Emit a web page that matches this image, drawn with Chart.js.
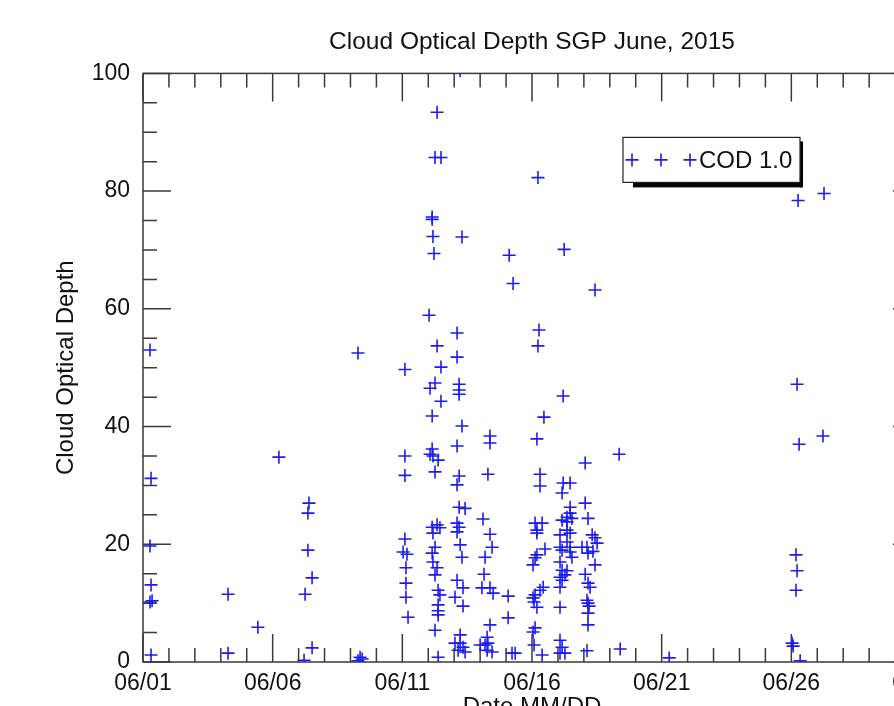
<!DOCTYPE html>
<html lang="en">
<head>
    <meta charset="UTF-8">
    <title>Cloud Optical Depth SGP June, 2015</title>
    <script src="https://cdn.jsdelivr.net/npm/chart.js"></script>
    <style>
        html, body { margin: 0; padding: 0; background: #fff; overflow: hidden; }
        #chart-container { position: absolute; left: 0; top: 0; width: 960px; height: 740px; }
    </style>
</head>
<body>
    <div id="chart-container">
        <canvas id="codChart" width="960" height="740"></canvas>
    </div>

    <script>
        // Day of month (fractional) and cloud optical depth
        const days = [
            1.27, 1.31, 1.27, 1.31, 1.27, 1.35, 1.31, 4.28, 4.28, 5.43,
            6.24, 7.40, 7.36, 7.36, 7.52, 7.25, 7.52, 7.21, 9.29, 9.37,
            9.29, 9.45, 11.10, 11.10, 11.10, 11.10, 11.03, 11.18, 11.14, 11.14,
            11.14, 11.22, 12.34, 12.26, 12.49, 12.15, 12.15, 12.18, 12.22, 12.03,
            12.34, 12.49, 12.26, 12.07, 12.49, 12.15, 12.15, 12.07, 12.18, 12.38,
            12.26, 12.15, 12.34, 12.45, 12.18, 12.26, 12.15, 12.18, 12.34, 12.26,
            12.38, 12.45, 12.38, 12.38, 12.38, 12.26, 12.38, 13.23, 13.30, 13.11,
            13.11, 13.19, 13.19, 13.19, 13.30, 13.11, 13.19, 13.11, 13.19, 13.42,
            13.11, 13.19, 13.11, 13.23, 13.30, 13.11, 13.34, 13.03, 13.34, 13.23,
            13.03, 13.23, 13.34, 13.15, 13.42, 14.38, 14.38, 14.30, 14.11, 14.38,
            14.46, 14.19, 14.15, 14.07, 14.38, 14.50, 14.38, 14.27, 14.00, 14.19,
            14.30, 14.46, 14.27, 15.12, 15.27, 15.08, 15.08, 15.23, 15.35, 16.23,
            16.27, 16.23, 16.46, 16.19, 16.31, 16.31, 16.12, 16.39, 16.19, 16.19,
            16.50, 16.19, 16.12, 16.04, 16.43, 16.31, 16.12, 16.04, 16.08, 16.19,
            16.12, 16.04, 16.08, 16.39, 17.24, 17.20, 17.20, 17.47, 17.16, 17.47,
            17.35, 17.47, 17.54, 17.16, 17.35, 17.35, 17.47, 17.08, 17.35, 17.08,
            17.47, 17.16, 17.47, 17.54, 17.08, 17.16, 17.35, 17.08, 17.27, 17.16,
            17.08, 17.08, 17.08, 17.16, 17.08, 17.27, 18.43, 18.05, 18.05, 18.16,
            18.32, 18.43, 18.51, 17.93, 18.12, 18.16, 18.35, 18.43, 18.05, 18.16,
            18.24, 18.12, 18.16, 18.20, 18.16, 18.16, 18.12, 19.36, 19.40, 21.29,
            26.26, 27.26, 26.22, 26.30, 27.22, 26.18, 26.22, 26.18, 26.03, 26.07,
            26.34
        ];
        const cod = [
            53.0, 31.2, 19.7, 13.1, 10.2, 10.4, 1.2, 11.5, 1.5, 5.9,
            34.8, 27.0, 25.3, 19.0, 14.3, 11.5, 2.4, 0.3, 52.5, 0.8,
            0.2, 0.5, 49.7, 35.0, 31.7, 20.9, 18.7, 18.3, 16.0, 13.4,
            11.0, 7.6, 93.4, 85.7, 85.7, 75.6, 75.2, 72.3, 69.4, 58.9,
            53.7, 50.1, 47.4, 46.5, 44.3, 41.8, 36.2, 35.3, 35.0, 34.3,
            32.3, 22.9, 23.3, 22.8, 21.9, 19.5, 18.5, 17.0, 16.0, 14.8,
            12.2, 11.4, 9.7, 8.7, 8.0, 5.4, 0.8, 100.5, 72.2, 55.9,
            51.8, 47.2, 46.2, 45.5, 40.1, 36.7, 31.6, 30.1, 26.3, 26.1,
            23.6, 22.9, 22.1, 19.9, 17.8, 13.9, 12.6, 11.0, 9.5, 4.6,
            3.2, 3.2, 2.5, 2.0, 1.7, 38.4, 37.2, 31.9, 24.3, 21.7,
            19.5, 17.8, 14.9, 12.6, 12.6, 11.7, 6.3, 4.2, 2.9, 2.9,
            3.2, 1.7, 2.0, 69.1, 64.3, 11.2, 7.5, 1.5, 1.5, 82.3,
            56.4, 53.7, 41.6, 37.9, 31.9, 29.9, 23.6, 23.6, 22.4, 21.9,
            19.2, 18.2, 17.7, 16.5, 12.7, 12.2, 11.4, 10.9, 10.2, 9.3,
            5.8, 5.1, 2.9, 1.2, 70.1, 45.2, 30.4, 30.4, 28.7, 26.3,
            24.6, 25.3, 24.4, 24.1, 23.8, 22.4, 21.9, 21.6, 20.4, 19.5,
            19.5, 19.0, 18.7, 17.8, 17.0, 15.6, 15.5, 14.4, 14.8, 13.9,
            12.7, 9.3, 3.7, 2.5, 1.5, 1.5, 63.2, 33.8, 27.0, 24.4,
            21.6, 21.1, 20.2, 19.5, 19.5, 18.5, 18.8, 16.5, 14.9, 13.4,
            12.7, 10.5, 10.0, 9.5, 8.3, 6.3, 1.9, 35.3, 2.2, 0.7,
            78.4, 79.6, 47.2, 37.0, 38.4, 18.2, 15.5, 12.2, 3.2, 2.7,
            0.2
        ];
        const xTickDays = [1, 6, 11, 16, 21, 26, 31];
        const xTickLabels = ['06/01', '06/06', '06/11', '06/16', '06/21', '06/26', '07/01'];
        const seriesName = 'COD 1.0';

        const fontFamily = '"Liberation Sans", Arial, Helvetica, sans-serif';
        const ink = '#111';
        const blue = 'rgb(28,28,238)';

        // box round the plot with inward ticks on all four sides (IDL style)
        const axisFrame = {
            id: 'axisFrame',
            beforeDatasetsDraw(chart) {
                const { ctx, chartArea: a, scales: { x, y } } = chart;
                ctx.save();
                ctx.strokeStyle = '#3a3a3a';
                ctx.lineWidth = 1.5;
                ctx.strokeRect(a.left, a.top, a.right - a.left, a.bottom - a.top);
                ctx.beginPath();
                for (let d = x.min; d <= x.max; d++) {
                    const px = x.getPixelForValue(d);
                    const len = (d - x.min) % 5 === 0 ? 28 : 14;
                    ctx.moveTo(px, a.bottom); ctx.lineTo(px, a.bottom - len);
                    ctx.moveTo(px, a.top); ctx.lineTo(px, a.top + len);
                }
                for (let v = y.min; v <= y.max; v += 5) {
                    const py = y.getPixelForValue(v);
                    const len = v % 20 === 0 ? 28 : 14;
                    ctx.moveTo(a.left, py); ctx.lineTo(a.left + len, py);
                    ctx.moveTo(a.right, py); ctx.lineTo(a.right - len, py);
                }
                ctx.stroke();
                ctx.restore();
            }
        };

        // boxed legend with drop shadow: "+ + +COD 1.0"
        const boxLegend = {
            id: 'boxLegend',
            afterDraw(chart) {
                const { ctx, chartArea: a } = chart;
                const left = a.left + 480, top = a.top + 64, w = 177, h = 45;
                ctx.save();
                ctx.fillStyle = '#000';
                ctx.fillRect(left + 10, top + h, w - 8, 5);
                ctx.fillRect(left + w, top + 4, 3, h + 1);
                ctx.fillStyle = '#fff';
                ctx.fillRect(left, top, w, h);
                ctx.strokeStyle = '#222';
                ctx.lineWidth = 1.2;
                ctx.strokeRect(left, top, w, h);
                const cy = top + h / 2;
                ctx.strokeStyle = blue;
                ctx.lineWidth = 1.6;
                ctx.beginPath();
                [9, 38, 67].forEach(dx => {
                    ctx.moveTo(left + dx - 6.5, cy); ctx.lineTo(left + dx + 6.5, cy);
                    ctx.moveTo(left + dx, cy - 6.5); ctx.lineTo(left + dx, cy + 6.5);
                });
                ctx.stroke();
                ctx.fillStyle = ink;
                ctx.font = '24px ' + fontFamily;
                ctx.textBaseline = 'middle';
                ctx.fillText(seriesName, left + 76, cy + 1);
                ctx.restore();
            }
        };

        const points = days.map((d, i) => ({ x: d, y: cod[i] }));

        const ctx = document.getElementById('codChart').getContext('2d');
        const codChart = new Chart(ctx, {
            type: 'scatter',
            data: {
                datasets: [{
                    label: seriesName,
                    data: points,
                    pointStyle: 'cross',
                    pointRadius: 6.5,
                    pointBorderWidth: 1.6,
                    borderColor: blue,
                    backgroundColor: blue,
                    clip: 0
                }]
            },
            options: {
                responsive: false,
                animation: false,
                events: [],
                layout: { padding: { left: 0, right: 39, top: 0, bottom: 0 } },
                plugins: {
                    legend: { display: false },
                    tooltip: { enabled: false },
                    title: {
                        display: true,
                        text: 'Cloud Optical Depth SGP June, 2015',
                        fullSize: false,
                        color: ink,
                        font: { family: fontFamily, size: 24.5, weight: 'normal' },
                        padding: { top: 28, bottom: 16 }
                    }
                },
                scales: {
                    x: {
                        type: 'linear',
                        min: 1,
                        max: 31,
                        grid: { display: false, drawTicks: false },
                        border: { display: false },
                        afterBuildTicks: s => { s.ticks = xTickDays.map(v => ({ value: v })); },
                        ticks: {
                            autoSkip: false,
                            maxRotation: 0,
                            padding: 8,
                            color: ink,
                            font: { family: fontFamily, size: 23 },
                            callback: v => xTickLabels[xTickDays.indexOf(v)]
                        },
                        title: {
                            display: true,
                            text: 'Date MM/DD',
                            color: ink,
                            font: { family: fontFamily, size: 24 },
                            padding: { top: 0, bottom: 18 }
                        },
                        afterFit: s => { s.height = 78; }
                    },
                    y: {
                        min: 0,
                        max: 100,
                        grid: { display: false, drawTicks: false },
                        border: { display: false },
                        ticks: {
                            stepSize: 20,
                            padding: 13,
                            color: ink,
                            font: { family: fontFamily, size: 23 }
                        },
                        title: {
                            display: true,
                            text: 'Cloud Optical Depth',
                            color: ink,
                            font: { family: fontFamily, size: 24 },
                            padding: { top: 52, bottom: 0 }
                        },
                        afterFit: s => { s.width = 143; }
                    }
                }
            },
            plugins: [axisFrame, boxLegend]
        });
    </script>
</body>
</html>
